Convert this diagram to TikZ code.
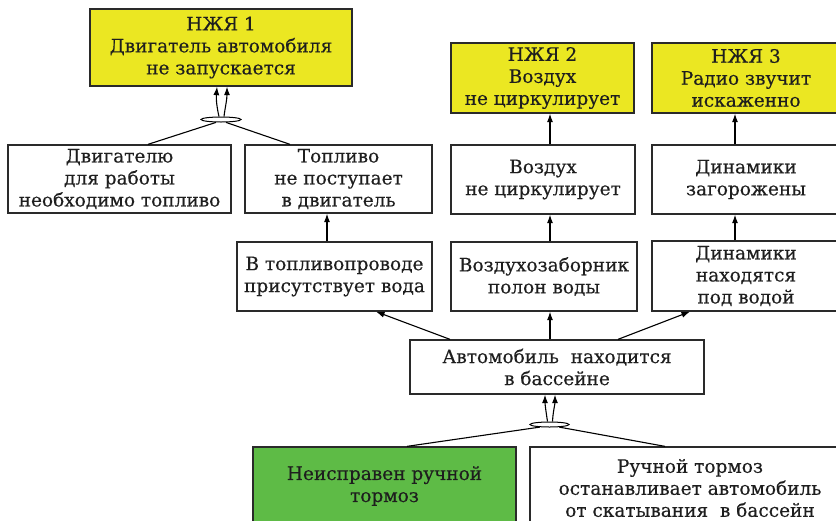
\documentclass[tikz,border=0pt]{standalone}
\usepackage{fontspec}
\setmainfont[FakeBold=0.35]{DejaVu Serif}
\usetikzlibrary{arrows.meta,shapes.geometric}
\definecolor{yel}{HTML}{EBE722}
\definecolor{grn}{HTML}{5EBB46}
\definecolor{txt}{HTML}{1E1E1E}
\definecolor{edge}{HTML}{2A2A2A}
\begin{document}
\begin{tikzpicture}[x=1pt,y=-1pt,
  box/.style={draw=edge, line width=1.3pt, align=center, inner sep=0pt, text=txt,
    font=\fontsize{18.5}{22}\selectfont},
  goal/.style={box, fill=yel},
  root/.style={box, fill=grn},
  arr/.style={-{Latex[length=8.5pt,width=6pt]}, line width=1.1pt, draw=black},
  ln/.style={line width=1.1pt, draw=black},
  andel/.style={ellipse, draw=black, line width=1pt, fill=white, inner sep=0pt, minimum width=40pt, minimum height=5pt}]
\useasboundingbox (0,0) rectangle (836,520);
\fill[white] (0,0) rectangle (836,520);
% goals
\node[goal, minimum width=262pt, minimum height=77pt] (n1) at (221,47.5) {НЖЯ 1\\Двигатель автомобиля\\не запускается};
\node[goal, minimum width=183pt, minimum height=70pt] (n2) at (542.5,78) {НЖЯ 2\\Воздух\\не циркулирует};
\node[goal, minimum width=188pt, minimum height=70pt] (n3) at (746,78) {НЖЯ 3\\Радио звучит\\искаженно};
% second row
\node[box, minimum width=223pt, minimum height=68pt] (a1) at (119.5,179) {Двигателю\\для работы\\необходимо топливо};
\node[box, minimum width=187pt, minimum height=68pt] (a2) at (338.5,179) {Топливо\\не поступает\\в двигатель};
\node[box, minimum width=184pt, minimum height=69pt] (b2) at (543,179.5) {Воздух\\не циркулирует};
\node[box, minimum width=188pt, minimum height=69pt] (b3) at (746,179.5) {Динамики\\загорожены};
% third row
\node[box, minimum width=195pt, minimum height=69pt] (c1) at (334.5,276.5) {В топливопроводе\\присутствует вода};
\node[box, minimum width=186pt, minimum height=69pt] (c2) at (544,276.5) {Воздухозаборник\\полон воды};
\node[box, minimum width=188pt, minimum height=70pt] (c3) at (746,276) {Динамики\\находятся\\под водой};
% middle
\node[box, minimum width=294pt, minimum height=54pt] (d) at (557,367) {Автомобиль~ находится\\в бассейне};
% bottom
\node[root, minimum width=263pt, minimum height=78pt] (e1) at (384.5,486) {Неисправен ручной\\тормоз};
\node[box, minimum width=320pt, minimum height=82pt] (e2) at (690,488) {Ручной тормоз\\останавливает автомобиль\\от скатывания~ в бассейн};
% AND junctions
\node[andel] (el1) at (221,119.5) {};
\node[andel, minimum width=39pt] (el2) at (549.5,424.5) {};
% top AND
\draw[ln] (el1.-150) -- ([xshift=28.5pt]a1.north);
\draw[ln] (el1.-30) -- ([xshift=-48.5pt]a2.north);
\draw[arr] ([xshift=-2pt]el1.north) .. controls (217,108) and (216,100) .. ([xshift=-4pt]n1.south);
\draw[arr] ([xshift=3pt]el1.north) .. controls (225,108) and (227,100) .. ([xshift=6pt]n1.south);
% chains
\draw[arr] ([xshift=-7.5pt]c1.north) -- ([xshift=-11.5pt]a2.south);
\draw[arr] ([xshift=6pt]c2.north) -- ([xshift=7pt]b2.south);
\draw[arr] ([xshift=7pt]b2.north) -- ([xshift=7.5pt]n2.south);
\draw[arr] ([xshift=-11pt]c3.north) -- ([xshift=-11pt]b3.south);
\draw[arr] ([xshift=-11pt]b3.north) -- ([xshift=-11pt]n3.south);
% from d
\draw[arr] ([xshift=-107pt]d.north) -- ([xshift=41.5pt]c1.south);
\draw[arr] ([xshift=-7pt]d.north) -- ([xshift=6pt]c2.south);
\draw[arr] ([xshift=61pt]d.north) -- ([xshift=-56pt]c3.south);
% bottom AND
\draw[ln] (el2.-165) -- ([xshift=22.5pt]e1.north);
\draw[ln] (el2.-15) -- ([xshift=-25pt]e2.north);
\draw[arr] ([xshift=-2pt]el2.north) .. controls (546,412) and (545,404) .. ([xshift=-12pt]d.south);
\draw[arr] ([xshift=3pt]el2.north) .. controls (553,412) and (555,404) .. ([xshift=-2pt]d.south);
\end{tikzpicture}
\end{document}
